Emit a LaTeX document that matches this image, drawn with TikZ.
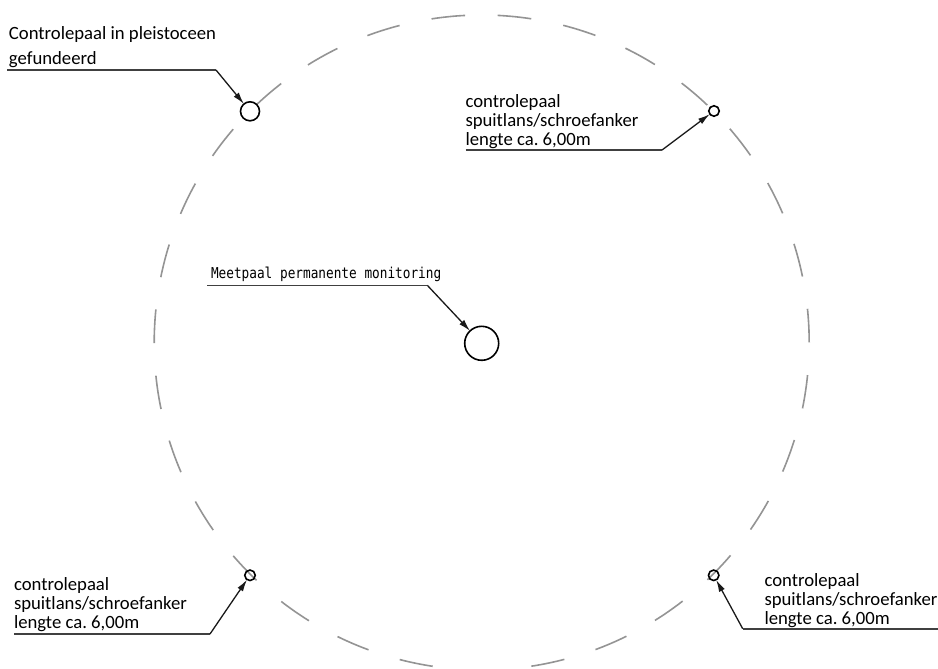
\documentclass[tikz,border=0pt]{standalone}
\usepackage{fontspec}
\setmainfont{Carlito}
\newfontfamily\cadfont[FakeStretch=0.85]{DejaVu Sans Mono}
\usetikzlibrary{arrows.meta}
\frenchspacing
\tikzset{
  x=1pt,y=1pt,
  ringdash/.style={draw=black!42,line width=1.6pt},
  pile/.style={circle,draw=black,line width=1.6pt,inner sep=0pt,outer sep=0pt},
  shelf/.style={draw=black!75,line width=1.6pt},
  leader/.style={draw=black!90,line width=1.3pt,-{Latex[length=12pt,width=6.5pt]}},
  lab/.style={anchor=base west,inner sep=0pt,outer sep=0pt,text=black,font=\fontsize{18.7}{19.2}\selectfont},
  lablines/.style={anchor=base west,inner sep=0pt,outer sep=0pt,text=black,align=left,font=\fontsize{18.7}{19.2}\selectfont},
  cadlab/.style={anchor=base west,inner sep=0pt,outer sep=0pt,text=black,font=\fontsize{15}{15}\cadfont},
}
\begin{document}
\begin{tikzpicture}
\useasboundingbox (0,-669) rectangle (938,0);
% dashed ring
\foreach \k in {0,...,14,16,17,...,30}{
  \pgfmathsetmacro{\a}{87.2-\k*360/31}
  \draw[ringdash] (481.7,-342.5) ++(\a:327.5pt) arc[start angle=\a,delta angle=-5.9,radius=327.5pt];
}
% piles
\node[pile,fill=white,minimum size=19pt] (pTL) at (250,-111.3) {};
\node[pile,fill=white,minimum size=10.5pt] (pTR) at (714,-111) {};
\node[pile,minimum size=10.5pt] (pBL) at (250,-575.3) {};
\node[pile,minimum size=10.5pt] (pBR) at (713.7,-575.3) {};
\node[pile,fill=white,minimum size=34pt] (pC) at (481.7,-343.3) {};
% leader corners
\coordinate (aTL) at (7,-70);      \coordinate (bTL) at (216,-70);
\coordinate (aTR) at (465.7,-150); \coordinate (bTR) at (662,-150);
\coordinate (aC) at (207.3,-285.3);\coordinate (bC) at (427.3,-285.3);
\coordinate (aBL) at (14.3,-634);  \coordinate (bBL) at (210,-634);
\coordinate (aBR) at (938,-628.7); \coordinate (bBR) at (742.7,-628.7);
\draw[shelf] (aTL)--(bTL);
\draw[shelf] (aTR)--(bTR);
\draw[shelf] (aC)--(bC);
\draw[shelf] (aBL)--(bBL);
\draw[shelf] (aBR)--(bBR);
\draw[leader] (bTL)--(pTL);
\draw[leader] (bTR)--(pTR);
\draw[leader] (bC)--(pC);
\draw[leader] (bBL)--(pBL);
\draw[leader] (bBR)--(pBR);
% labels
\node[lab] (tTLa) at (9,-40) {Controlepaal in pleistoceen};
\node[lab] (tTLb) at (9,-65) {gefundeerd};
\node[cadlab] (tC) at (211,-278) {Meetpaal permanente monitoring};
\node[lablines] (tTR) at (465.5,-146) {controlepaal\\spuitlans/schroefanker\\lengte ca. 6,00m};
\node[lablines] (tBL) at (14,-628.5) {controlepaal\\spuitlans/schroefanker\\lengte ca. 6,00m};
\node[lablines] (tBR) at (764.5,-624.5) {controlepaal\\spuitlans/schroefanker\\lengte ca. 6,00m};
\end{tikzpicture}
\end{document}
